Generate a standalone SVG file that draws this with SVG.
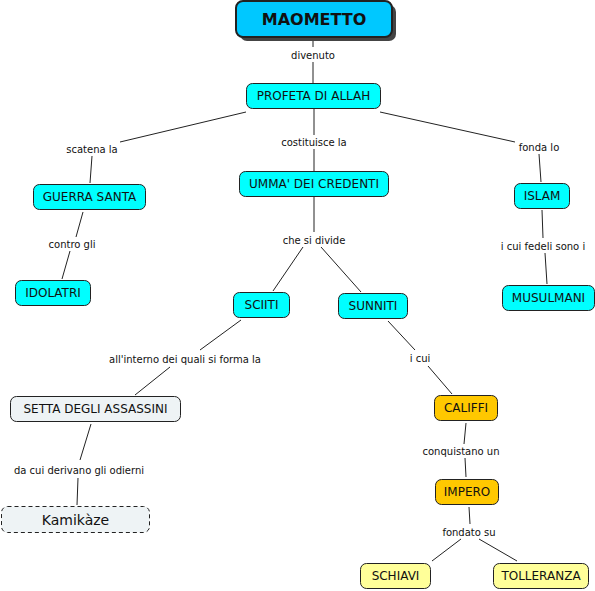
<svg xmlns="http://www.w3.org/2000/svg" width="595" height="591" viewBox="0 0 595 591">
<style>
.n rect{stroke:#222;stroke-width:1}
.c{fill:#00ffff}
.g{fill:#eef3f5}
.o{fill:#ffc800}
.y{fill:#ffff99}
text{font-family:"DejaVu Sans",Verdana,sans-serif;fill:#111;text-anchor:middle}
.t{font-size:12px}
.l{font-size:10px}
#edges line{stroke:#222;stroke-width:1}
</style>
<rect width="595" height="591" fill="#fff"/>
<g id="edges">
<line x1="313" y1="37" x2="313" y2="47"/>
<line x1="313" y1="62" x2="313" y2="83"/>
<line x1="246" y1="112" x2="120" y2="142"/>
<line x1="92" y1="156" x2="90" y2="183"/>
<line x1="314" y1="108" x2="314" y2="135"/>
<line x1="314" y1="149" x2="314" y2="171"/>
<line x1="380" y1="112" x2="515" y2="142"/>
<line x1="539" y1="154" x2="541" y2="182"/>
<line x1="83" y1="212" x2="76" y2="237"/>
<line x1="70" y1="251" x2="62" y2="279"/>
<line x1="314" y1="197" x2="314" y2="232"/>
<line x1="303" y1="247" x2="273" y2="291"/>
<line x1="321" y1="247" x2="361" y2="292"/>
<line x1="542" y1="210" x2="543" y2="238"/>
<line x1="545" y1="253" x2="547" y2="284"/>
<line x1="241" y1="320" x2="200" y2="350"/>
<line x1="170" y1="367" x2="135" y2="395"/>
<line x1="388" y1="321" x2="415" y2="350"/>
<line x1="428" y1="366" x2="452" y2="394"/>
<line x1="91" y1="424" x2="80" y2="460"/>
<line x1="78" y1="478" x2="77" y2="505"/>
<line x1="466" y1="423" x2="464" y2="444"/>
<line x1="465" y1="458" x2="466" y2="477"/>
<line x1="469" y1="507" x2="470" y2="524"/>
<line x1="461" y1="539" x2="432" y2="561"/>
<line x1="479" y1="539" x2="517" y2="561"/>
</g>
<g id="labels" class="l">
<text x="313" y="59">divenuto</text>
<text x="92" y="153">scatena la</text>
<text x="314" y="146">costituisce la</text>
<text x="539" y="151">fonda lo</text>
<text x="72" y="248">contro gli</text>
<text x="314" y="244">che si divide</text>
<text x="543" y="250">i cui fedeli sono i</text>
<text x="185" y="363">all'interno dei quali si forma la</text>
<text x="420" y="362">i cui</text>
<text x="79" y="474">da cui derivano gli odierni</text>
<text x="461" y="455">conquistano un</text>
<text x="469" y="536">fondato su</text>
</g>
<g id="maometto" class="n">
<rect x="240" y="5" width="156" height="36" rx="7" fill="#444" style="stroke:none"/>
<rect x="236" y="1" width="156" height="36" rx="7" fill="#00c8ff" style="stroke-width:2"/>
<text x="314" y="25" style="font-size:16px;font-weight:bold">MAOMETTO</text>
</g>
<g id="profeta" class="n"><rect class="c" x="246.5" y="83.5" width="134" height="25" rx="6"/><text class="t" x="313.5" y="100">PROFETA DI ALLAH</text></g>
<g id="guerra" class="n"><rect class="c" x="33.5" y="184.5" width="112" height="25" rx="6"/><text class="t" x="89.5" y="201">GUERRA SANTA</text></g>
<g id="umma" class="n"><rect class="c" x="239.5" y="171.5" width="149" height="25" rx="6"/><text class="t" x="314" y="188">UMMA' DEI CREDENTI</text></g>
<g id="islam" class="n"><rect class="c" x="514.5" y="183.5" width="55" height="25" rx="6"/><text class="t" x="542" y="200">ISLAM</text></g>
<g id="idolatri" class="n"><rect class="c" x="15.5" y="280.5" width="75" height="25" rx="6"/><text class="t" x="53" y="297">IDOLATRI</text></g>
<g id="sciiti" class="n"><rect class="c" x="233.5" y="292.5" width="56" height="25" rx="6"/><text class="t" x="261.5" y="309">SCIITI</text></g>
<g id="sunniti" class="n"><rect class="c" x="338.5" y="293.5" width="69" height="25" rx="6"/><text class="t" x="373" y="310">SUNNITI</text></g>
<g id="musulmani" class="n"><rect class="c" x="502.5" y="285.5" width="92" height="25" rx="6"/><text class="t" x="548.5" y="302">MUSULMANI</text></g>
<g id="setta" class="n"><rect class="g" x="10.5" y="396.5" width="170" height="25" rx="6"/><text class="t" x="95.5" y="413">SETTA DEGLI ASSASSINI</text></g>
<g id="kamikaze" class="n"><rect class="g" x="1.5" y="506.5" width="148" height="26" rx="6" style="stroke-dasharray:4 3"/><text x="75.5" y="524.5" style="font-size:14px">Kamikàze</text></g>
<g id="califfi" class="n"><rect class="o" x="434.5" y="395.5" width="63" height="25" rx="6"/><text class="t" x="466" y="412">CALIFFI</text></g>
<g id="impero" class="n"><rect class="o" x="435.5" y="479.5" width="63" height="25" rx="6"/><text class="t" x="467" y="496">IMPERO</text></g>
<g id="schiavi" class="n"><rect class="y" x="360.5" y="563.5" width="70" height="25" rx="6"/><text class="t" x="395.5" y="580">SCHIAVI</text></g>
<g id="tolleranza" class="n"><rect class="y" x="493.5" y="563.5" width="95" height="25" rx="6"/><text class="t" x="541" y="580">TOLLERANZA</text></g>
</svg>
